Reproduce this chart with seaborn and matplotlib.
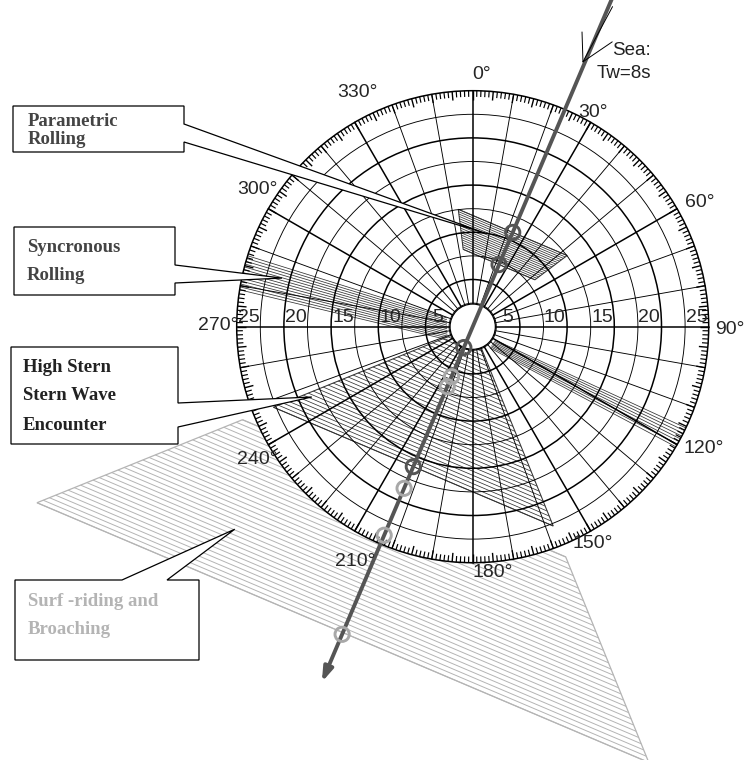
import numpy as np
import matplotlib
matplotlib.use("Agg")
import matplotlib.pyplot as plt
import seaborn as sns
from matplotlib.patches import Polygon, Circle
from matplotlib.collections import LineCollection

sns.set_style("white")
plt.rcParams['font.family'] = ['Liberation Sans', 'DejaVu Sans']

# ---------------- data ----------------
speed_rings = [2.5, 5, 7.5, 10, 12.5, 15, 17.5, 20, 22.5, 25]
speed_labels = [5, 10, 15, 20, 25]
bearing_labels = [0, 30, 60, 90, 120, 150, 180, 210, 240, 270, 300, 330]
wave_from = 23.0          # bearing the sea comes from (deg)
wave_period_text = "Sea:\nTw=8s"

# zones expressed as ranges of speed component along the wave direction (kn)
param_u = [7.15, 10.85]    # parametric rolling, within +/-30 deg of head seas
param_half = 30.0
stern_u = [0.0, -16.1]     # high stern wave encounter, within +/-45 deg of following seas
stern_half = 45.0
surf_u = [-18.6, -35.2]    # surf-riding and broaching
surf_half = 45.0

# synchronous rolling bands: (bearing, speed) of outer and inner ends
sync_left_outer = [(287.5, 25.0), (279.0, 25.0)]
sync_left_inner = [(288.7, 2.9), (242.6, 3.0)]
sync_right_outer = [(115.4, 25.0), (120.6, 25.0)]
sync_right_inner = [(120.8, 2.75), (140.9, 2.9)]

# crossing markers on the course line (speed component along the wave direction)
marks_dark = [10.85, 7.15, -2.4, -16.1]
marks_light = [-5.75, -6.9, -18.6, -24.0, -35.4]

hole_r = 2.4
course_span = [40.0, -40.9]

box_texts = [
    ["Parametric", "Rolling"],
    ["Syncronous", "Rolling"],
    ["High Stern", "Stern Wave", "Encounter"],
    ["Surf -riding and", "Broaching"],
]

# ---------------- layout ----------------
W, H = 747, 760
PX = 9.44                 # pixels per knot
CX, CY = 472.7, 326.7     # pole position in pixels

# where each bearing label sits around the rim: (bearing, radius in kn)
bearing_label_anchor = [
    (2.1, 26.74), (29.3, 26.07), (61.4, 27.41), (90.7, 27.25),
    (117.7, 27.67), (151.0, 26.3), (175.3, 26.15), (206.6, 27.82),
    (238.3, 26.86), (270.3, 26.93), (302.4, 27.05), (333.7, 27.65),
]

fig = plt.figure(figsize=(W / 100, H / 100), dpi=100)
ax = fig.add_axes([0, 0, 1, 1])
ax.set_xlim(-CX / PX, (W - CX) / PX)
ax.set_ylim(-(H - CY) / PX, CY / PX)
ax.set_aspect('equal')
ax.axis('off')


def pol(b, r):
    b = np.radians(b)
    return r * np.sin(b), r * np.cos(b)


def uw(u, w):
    a = np.radians(wave_from)
    return (u * np.sin(a) + w * np.cos(a), u * np.cos(a) - w * np.sin(a))


def px2data(x, y):
    return (x - CX) / PX, (CY - y) / PX


def strip_zone(urange, half, spacing, color, lw, z):
    u0, u1 = urange
    t = np.tan(np.radians(half))
    n = int(round(abs(u1 - u0) / spacing))
    segs = []
    for u in np.linspace(u0, u1, n + 1):
        a = uw(u, -abs(u) * t)
        b = uw(u, abs(u) * t)
        segs.append([a, b])
    ax.add_collection(LineCollection(segs, colors=color, linewidths=lw, zorder=z))
    corners = [uw(u0, -abs(u0) * t), uw(u1, -abs(u1) * t),
               uw(u1, abs(u1) * t), uw(u0, abs(u0) * t)]
    ax.add_patch(Polygon(corners, closed=True, fill=False, edgecolor=color,
                         lw=lw + 0.2, zorder=z))


def fan_zone(outer, inner, n, color, lw, z):
    oa, ob = np.array(pol(*outer[0])), np.array(pol(*outer[1]))
    ia, ib = np.array(pol(*inner[0])), np.array(pol(*inner[1]))
    segs = []
    for t in np.linspace(0, 1, n):
        segs.append([ia + t * (ib - ia), oa + t * (ob - oa)])
    ax.add_collection(LineCollection(segs, colors=color, linewidths=lw, zorder=z))


# surf-riding zone sits underneath the diagram disc
strip_zone(surf_u, surf_half, 0.5, '#b4b4b4', 0.7, 0.5)
ax.add_patch(Circle((0, 0), 25, facecolor='white', edgecolor='none', zorder=1))

# danger zones inside the disc
strip_zone(stern_u, stern_half, 0.40, '#333333', 0.55, 2)
strip_zone(param_u, param_half, 0.22, '#333333', 0.55, 2)
fan_zone(sync_left_outer, sync_left_inner, 13, '#333333', 0.55, 2)
fan_zone(sync_right_outer, sync_right_inner, 8, '#333333', 0.55, 2)

# speed rings
for r in speed_rings:
    major = (r % 5 == 0)
    ax.add_patch(Circle((0, 0), r, fill=False, edgecolor='black',
                        lw=1.1 if major else 0.65, zorder=3))

# radial lines every 10 deg, heavier every 30 deg
for b in range(0, 360, 10):
    x0, y0 = pol(b, hole_r)
    x1, y1 = pol(b, 25)
    ax.plot([x0, x1], [y0, y1], color='black',
            lw=1.1 if b % 30 == 0 else 0.65, zorder=3)

# degree ticks on the rim, pointing inwards
segs, widths = [], []
for b in range(360):
    ln = 0.95 if b % 5 == 0 else 0.65
    segs.append([pol(b, 25), pol(b, 25 - ln)])
    widths.append(1.0 if b % 5 == 0 else 0.85)
ax.add_collection(LineCollection(segs, colors='black', linewidths=widths, zorder=3.5))

# central hole
ax.add_patch(Circle((0, 0), hole_r, facecolor='white', edgecolor='black', lw=0.9, zorder=4))

# speed labels along the 90/270 axis
for v in speed_labels:
    for s in (-1, 1):
        ax.text(s * (v - 1.3), 0.05, str(v), ha='center', va='bottom',
                fontsize=14, zorder=9)

# bearing labels
for b, (ab, ar) in zip(bearing_labels, bearing_label_anchor):
    x, y = pol(ab, ar)
    ax.text(x, y, f"{b}\u00b0", ha='center', va='center', fontsize=14, zorder=9)

# course line with arrow
start = uw(course_span[0], 0)
end = uw(course_span[1], 0)
ax.annotate('', xy=end, xytext=start,
            arrowprops=dict(arrowstyle='-|>,head_length=0.6,head_width=0.2',
                            color='#555555', lw=2.8, mutation_scale=14,
                            shrinkA=0, shrinkB=0), zorder=5)

# sea direction marker near the top
p0 = pol(22.6, 30.4)
for b, r in [(23.6, 37.0), (20.35, 33.3), (26.1, 33.6)]:
    p1 = pol(b, r)
    ax.plot([p0[0], p1[0]], [p0[1], p1[1]], color='black', lw=0.7, zorder=5)
tx, ty = px2data(651, 62)
ax.text(tx, ty, wave_period_text, fontsize=13.5, color='#222222', ha='right',
        va='center', multialignment='right', linespacing=1.4, zorder=9)

# crossing markers
dark_xy = np.array([uw(u, 0) for u in marks_dark])
light_xy = np.array([uw(u, 0) for u in marks_light])
sns.scatterplot(x=light_xy[:, 0], y=light_xy[:, 1], s=105, marker='o',
                facecolor='none', edgecolor='#a8a8a8', linewidth=2.1, ax=ax, zorder=6)
sns.scatterplot(x=dark_xy[:, 0], y=dark_xy[:, 1], s=105, marker='o',
                facecolor='none', edgecolor='#555555', linewidth=2.1, ax=ax, zorder=6)

# callout boxes (pixel layout) with pointer to the zone
boxes = [
    # left, top, right, bottom, side, pointer base a, pointer base b, tip (bearing, speed)
    (13, 106, 184, 152, 'right', 124, 142, (7.5, 10.0)),
    (14, 227, 175, 295, 'right', 265, 283, (284.3, 20.85)),
    (11, 347, 178, 444, 'right', 403, 427, (246.4, 18.6)),
    (15, 580, 199, 660, 'top', 122, 167, (229.6, 33.1)),
]
text_rows = [
    [(28, 121), (28, 139)],
    [(27, 248), (27, 275)],
    [(23, 367), (23, 396), (23, 425)],
    [(28, 601), (28, 629)],
]
text_colors = ['#444444', '#444444', '#222222', '#b4b4b4']
for (l, t, r, btm, side, a, b, tip), rows, lines, col in zip(boxes, text_rows, box_texts, text_colors):
    tip_xy = pol(*tip)
    if side == 'right':
        pts = [px2data(l, t), px2data(r, t), px2data(r, a), tip_xy,
               px2data(r, b), px2data(r, btm), px2data(l, btm)]
    else:
        pts = [px2data(l, t), px2data(a, t), tip_xy, px2data(b, t),
               px2data(r, t), px2data(r, btm), px2data(l, btm)]
    ax.add_patch(Polygon(pts, closed=True, facecolor='white', edgecolor='black',
                         lw=0.9, zorder=8))
    for (x, y), s in zip(rows, lines):
        xx, yy = px2data(x, y)
        ax.text(xx, yy, s, family=['Liberation Serif', 'DejaVu Serif'], weight='bold',
                fontsize=13.5, color=col, ha='left', va='center', zorder=9)

fig.savefig("out.png", dpi=100)
